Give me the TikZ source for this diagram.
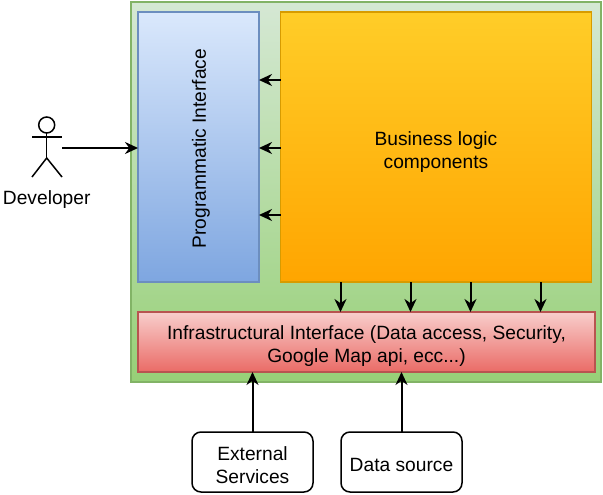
\documentclass[tikz,border=0pt]{standalone}
\usepackage{fontspec}
\setmainfont{Liberation Sans}
\usetikzlibrary{arrows.meta,calc}
\definecolor{lgreen}{HTML}{82B366}
\definecolor{lblue}{HTML}{6C8EBF}
\definecolor{lorange}{HTML}{D79B00}
\definecolor{lred}{HTML}{B85450}
\definecolor{fgreentop}{HTML}{D5E8D4}
\definecolor{fgreenbot}{HTML}{97D077}
\definecolor{fbluetop}{HTML}{DAE8FC}
\definecolor{fbluebot}{HTML}{7EA6E0}
\definecolor{forangetop}{HTML}{FFCD28}
\definecolor{forangebot}{HTML}{FFA500}
\definecolor{fredtop}{HTML}{F8CECC}
\definecolor{fredbot}{HTML}{EA6B66}
\newcommand{\lift}[1][20pt]{\rule{0pt}{#1}}
\tikzset{
  box/.style={draw,line width=1.5pt,inner sep=0pt,outer sep=0pt,align=center,font=\fontsize{19.2}{23}\selectfont},
  service/.style={box,draw=black,rounded corners=9pt,minimum width=121pt,minimum height=60pt},
  conn/.style={-{Stealth[length=13pt,width=12pt]},line width=2pt},
}
\begin{document}
\begin{tikzpicture}[x=1pt,y=-1pt]
    \useasboundingbox (0,0) rectangle (603,495);
    \node[box,draw=lgreen,top color=fgreentop,bottom color=fgreenbot,minimum width=470pt,minimum height=380pt] (app) at (366,192) {};
    \node[box,draw=lblue,top color=fbluetop,bottom color=fbluebot,minimum width=121pt,minimum height=270pt] (prog) at (198.5,147) {};
    \node[rotate=90,font=\fontsize{19.2}{23}\selectfont] (progtext) at (201,148.5) {Programmatic Interface};
    \node[box,draw=lorange,top color=forangetop,bottom color=forangebot,minimum width=311pt,minimum height=270pt] (biz) at (436,147) {\lift[24pt]Business logic\\components};
    \node[box,draw=lred,top color=fredtop,bottom color=fredbot,minimum width=457pt,minimum height=60pt] (infra) at (366.5,342) {\lift[22pt]Infrastructural Interface (Data access, Security,\\Google Map api, ecc...)};
    \node[service] (ext) at (252.5,462) {\lift External\\Services};
    \node[service] (data) at (401.5,462) {\lift Data source};
    % actor
    \node[draw,circle,line width=1.5pt,minimum size=16pt,inner sep=0pt,outer sep=0pt] (head) at (46.7,125) {};
    \draw[line width=1.5pt] (head.south) -- ++(0,25) coordinate (hip);
    \draw[line width=1.5pt] (32,137) -- (62,137);
    \draw[line width=1.5pt] (32,177) -- (hip) -- (62,177);
    \node[font=\fontsize{19.2}{23}\selectfont] (dev) at (46.7,200) {Developer};
    \coordinate (hand) at (62,148);
    \draw[conn] (hand) -- (hand -| prog.west);
    \foreach \dy in {68,136,203}
      \draw[conn] ($(biz.north west)+(0,\dy)$) coordinate (a) -- (a -| prog.east);
    \foreach \dx in {60,130,190,260}
      \draw[conn] ($(biz.south west)+(\dx,0)$) coordinate (a) -- (a |- infra.north);
    \draw[conn] (ext.north) -- (ext |- infra.south);
    \draw[conn] (data.north) -- (data |- infra.south);
\end{tikzpicture}
\end{document}
